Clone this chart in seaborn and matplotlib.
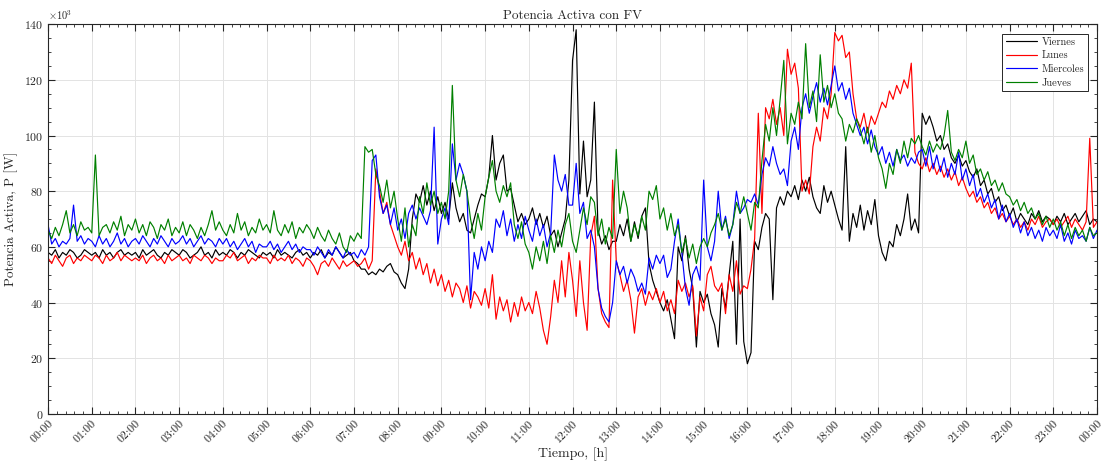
import numpy as np
import pandas as pd
import matplotlib
matplotlib.use("Agg")
import matplotlib.pyplot as plt
import seaborn as sns
from matplotlib.ticker import MultipleLocator, AutoMinorLocator, ScalarFormatter

# Potencia activa cada 5 minutos (kW), una fila por hora, 00:00 -> 24:00
viernes = [
    58, 57, 59, 56, 58, 57, 59, 58, 56, 57, 59, 58,
    57, 58, 56, 59, 57, 58, 56, 58, 59, 57, 58, 57,
    58, 56, 59, 57, 58, 59, 57, 56, 58, 57, 59, 58,
    57, 59, 58, 56, 57, 58, 60, 57, 58, 56, 59, 57,
    58, 57, 59, 58, 56, 58, 57, 59, 58, 57, 56, 58,
    57, 58, 56, 59, 57, 58, 57, 56, 58, 59, 57, 58,
    56, 58, 57, 59, 56, 58, 57, 60, 58, 56, 57, 58,
    55, 54, 52, 52, 50, 51, 50, 52, 51, 53, 54, 51,
    50, 47, 45, 52, 70, 79, 76, 82, 75, 80, 73, 78,
    72, 76, 70, 83, 74, 69, 72, 66, 65, 70, 75, 79,
    78, 85, 100, 84, 90, 93, 80, 81, 75, 69, 72, 68,
    70, 74, 68, 72, 67, 71, 64, 66, 60, 65, 70, 84,
    127, 138, 79, 98, 78, 84, 112, 66, 61, 64, 59, 62,
    62, 68, 64, 70, 62, 69, 63, 71, 74, 54, 48, 44,
    40, 37, 41, 34, 27, 60, 55, 64, 52, 45, 24, 44,
    40, 43, 36, 32, 24, 45, 38, 50, 62, 25, 70, 26,
    18, 22, 62, 59, 67, 72, 70, 41, 74, 78, 75, 80,
    78, 82, 77, 84, 80, 85, 78, 74, 72, 82, 76, 80,
    75, 70, 66, 96, 62, 72, 67, 75, 66, 73, 68, 77,
    64, 58, 55, 62, 60, 68, 64, 70, 79, 66, 70, 65,
    108, 104, 107, 103, 98, 100, 95, 97, 92, 90, 93, 89,
    91, 87, 85, 88, 82, 84, 79, 81, 76, 78, 73, 75,
    71, 74, 69, 72, 70, 68, 72, 70, 73, 69, 71, 70,
    68, 71, 69, 72, 68, 70, 72, 69, 71, 73, 68, 70,
    69,
]
lunes = [
    56, 54, 57, 55, 53, 56, 57, 54, 56, 55, 57, 56,
    55, 57, 56, 54, 57, 55, 56, 58, 55, 57, 56, 55,
    56, 55, 57, 54, 56, 57, 55, 56, 54, 57, 55, 56,
    57, 55, 56, 54, 57, 56, 55, 57, 56, 54, 56, 55,
    55, 57, 56, 58, 55, 56, 57, 54, 56, 55, 57, 56,
    56, 54, 57, 55, 56, 55, 57, 54, 56, 55, 53, 56,
    55, 53, 50, 54, 55, 53, 56, 54, 52, 55, 53, 54,
    55, 53, 54, 56, 52, 55, 88, 80, 72, 76, 68, 64,
    60, 57, 62, 55, 58, 52, 56, 50, 54, 47, 52, 46,
    50, 44, 48, 42, 47, 45, 40, 46, 38, 44, 42, 39,
    45, 38, 50, 34, 42, 37, 41, 33, 40, 35, 42, 37,
    40, 36, 44, 38, 30, 25, 35, 48, 40, 55, 42, 58,
    48, 35, 55, 40, 30, 64, 71, 45, 36, 33, 31, 84,
    55, 50, 44, 48, 41, 29, 42, 45, 39, 44, 41, 45,
    40, 44, 37, 41, 36, 48, 44, 47, 42, 46, 28, 42,
    37, 50, 53, 46, 44, 47, 36, 50, 44, 55, 43, 46,
    45, 52, 63, 108, 72, 110, 106, 113, 104, 110, 100, 131,
    122, 126, 117, 80, 84, 79, 96, 103, 98, 110, 106, 115,
    137, 134, 136, 128, 130, 115, 106, 103, 108, 101, 107, 104,
    108, 112, 110, 116, 113, 118, 115, 120, 117, 126, 94, 90,
    88, 92, 87, 90, 86, 89, 85, 88, 84, 87, 82, 85,
    81, 78, 80, 76, 78, 74, 76, 72, 74, 70, 72, 69,
    71, 68, 70, 67, 69, 66, 70, 68, 71, 67, 69, 70,
    68, 70, 67, 69, 71, 67, 70, 68, 66, 69, 99, 67,
    69,
]
miercoles = [
    68, 61, 63, 60, 62, 61, 63, 75, 62, 64, 61, 63,
    62, 60, 64, 61, 63, 60, 62, 65, 61, 63, 60, 62,
    63, 61, 64, 62, 60, 63, 61, 64, 62, 60, 63, 61,
    62, 64, 61, 63, 60, 62, 64, 61, 63, 62, 60, 63,
    61, 63, 60, 62, 59, 61, 63, 60, 62, 58, 61, 60,
    60, 62, 59, 61, 58, 60, 62, 59, 61, 58, 60, 59,
    59, 57, 60, 58, 56, 59, 57, 60, 58, 56, 59, 57,
    58, 56, 59, 57, 60, 91, 93, 78, 72, 75, 68, 74,
    66, 70, 63, 72, 75, 70, 74, 71, 68, 73, 103, 61,
    70, 74, 68, 97, 84, 90, 86, 80, 41, 58, 52, 60,
    55, 62, 58, 70, 67, 73, 64, 70, 62, 68, 63, 71,
    66, 62, 70, 64, 68, 60, 65, 93, 84, 80, 86, 75,
    75, 90, 72, 76, 63, 66, 60, 45, 38, 35, 33, 40,
    55, 50, 53, 47, 52, 49, 44, 47, 43, 56, 52, 57,
    54, 57, 49, 52, 62, 70, 58, 45, 39, 50, 53, 48,
    84, 60, 55, 62, 80, 66, 71, 63, 68, 80, 72, 74,
    77, 76, 79, 75, 86, 92, 89, 96, 90, 86, 88, 82,
    98, 103, 95, 110, 115, 108, 114, 119, 112, 117, 111, 118,
    125, 116, 119, 113, 117, 108, 104, 100, 103, 97, 102, 96,
    93, 96, 90, 94, 89, 95, 91, 93, 89, 92, 90, 94,
    95, 89, 96, 88, 93, 87, 92, 85, 90, 86, 94, 84,
    88, 82, 86, 78, 81, 76, 79, 74, 77, 70, 75, 69,
    72, 67, 70, 65, 69, 64, 67, 63, 66, 62, 67, 64,
    66, 63, 68, 62, 65, 61, 66, 63, 64, 62, 67, 63,
    66,
]
jueves = [
    66, 63, 67, 64, 68, 73, 65, 68, 64, 69, 66, 67,
    65, 93, 64, 67, 68, 65, 69, 66, 71, 64, 68, 66,
    70, 65, 68, 64, 69, 67, 63, 68, 66, 70, 64, 67,
    65, 69, 64, 68, 66, 63, 67, 64, 68, 73, 66, 69,
    66, 64, 68, 65, 72, 66, 69, 64, 67, 65, 70, 66,
    68, 65, 73, 66, 64, 68, 65, 69, 63, 67, 65, 68,
    66, 63, 67, 64, 62, 66, 63, 61, 65, 60, 58, 64,
    62, 65, 63, 96, 94, 95, 86, 82, 76, 84, 74, 80,
    70, 62, 74, 60, 68, 64, 78, 72, 83, 75, 80, 72,
    76, 70, 80, 118, 84, 78, 86, 80, 70, 63, 72, 66,
    78, 85, 91, 80, 76, 82, 78, 83, 68, 63, 69, 61,
    58, 52, 60, 55, 62, 54, 64, 58, 66, 60, 68, 72,
    62, 58, 66, 74, 68, 78, 76, 64, 70, 61, 67, 63,
    95, 72, 80, 74, 62, 68, 64, 71, 66, 80, 77, 82,
    70, 74, 66, 72, 64, 68, 58, 63, 56, 61, 54, 60,
    63, 60, 65, 68, 72, 66, 70, 64, 68, 76, 72, 78,
    72, 66, 76, 74, 91, 104, 98, 110, 100, 113, 127, 97,
    108, 104, 112, 106, 133, 110, 116, 105, 129, 112, 118, 110,
    115, 108, 106, 98, 104, 101, 106, 102, 97, 103, 94, 100,
    92, 88, 81, 90, 86, 95, 90, 98, 92, 99, 97, 100,
    96, 93, 98, 94, 97, 95, 100, 109, 94, 91, 95, 92,
    98, 90, 93, 86, 88, 84, 87, 82, 84, 80, 83, 79,
    78, 75, 77, 73, 76, 72, 74, 70, 72, 68, 71, 67,
    70, 66, 69, 64, 68, 63, 67, 64, 66, 62, 67, 64,
    65,
]

dias = ["Viernes", "Lunes", "Miercoles", "Jueves"]
colores = {"Viernes": "#000000", "Lunes": "#ff0000",
           "Miercoles": "#0000ff", "Jueves": "#008000"}
hora_labels = [f"{h % 24:02d}:00" for h in range(25)]

horas = np.arange(len(viernes)) * 5 / 60.0
series = {"Viernes": viernes, "Lunes": lunes, "Miercoles": miercoles, "Jueves": jueves}
for k, v in series.items():
    assert len(v) == 289, (k, len(v))

df = pd.concat([pd.DataFrame({"hora": horas, "P": np.array(v) * 1000.0, "dia": k})
                for k, v in series.items()], ignore_index=True)

sns.set_style("ticks")
plt.rcParams["font.family"] = ["cmr10", "DejaVu Serif"]
plt.rcParams["mathtext.fontset"] = "cm"
plt.rcParams["axes.formatter.use_mathtext"] = True

fig = plt.figure(figsize=(11.07, 4.65), dpi=100)
ax = fig.add_axes([0.0434, 0.110, 0.9476, 0.838])

sns.lineplot(data=df, x="hora", y="P", hue="dia", hue_order=dias, palette=colores,
             linewidth=0.85, ax=ax, legend=True, sort=False)

ax.set_xlim(0, 24)
ax.set_ylim(0, 140000)
ax.xaxis.set_minor_locator(AutoMinorLocator(5))
ax.yaxis.set_major_locator(MultipleLocator(20000))
ax.yaxis.set_minor_locator(AutoMinorLocator(4))
ax.set_xticks(range(25))
ax.set_xticklabels(hora_labels, rotation=45, ha="right", rotation_mode="anchor")

fmt = ScalarFormatter(useMathText=True)
fmt.set_powerlimits((3, 3))
ax.yaxis.set_major_formatter(fmt)
ax.yaxis.get_offset_text().set_fontsize(7.5)

ax.grid(True, which="major", color="#e3e3e3", linewidth=0.7)
ax.tick_params(which="both", direction="in", top=True, right=True,
               colors="#262626", labelsize=8.5)
ax.tick_params(which="major", length=5)
ax.tick_params(which="minor", length=2.5)
for s in ax.spines.values():
    s.set_color("#262626")
    s.set_linewidth(0.8)

ax.set_title("Potencia Activa con FV", fontsize=9.5, pad=4)
ax.set_xlabel("Tiempo, [h]", fontsize=10, labelpad=2)
ax.set_ylabel("Potencia Activa, P [W]", fontsize=9.5, labelpad=4)

leg = ax.legend(loc="upper right", fontsize=7.5, frameon=True, fancybox=False,
                edgecolor="#262626", framealpha=1, handlelength=3.0,
                borderaxespad=0.9, labelspacing=0.4, borderpad=0.35,
                handletextpad=0.4)
leg.get_frame().set_linewidth(0.7)

fig.savefig("out.png", dpi=100)
